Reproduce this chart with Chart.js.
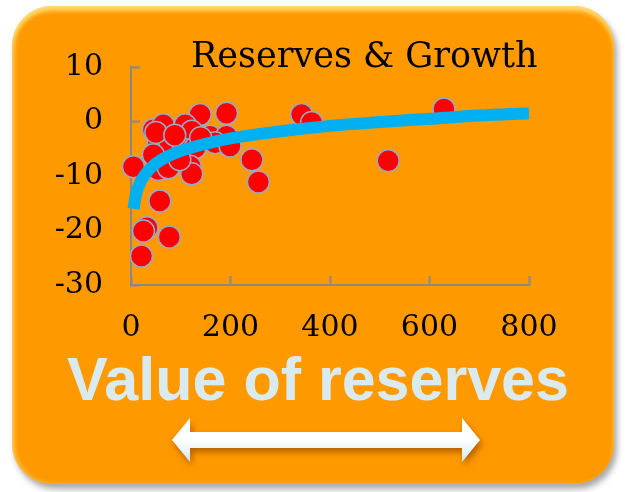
<!DOCTYPE html>
<html>
<head>
<meta charset="utf-8">
<title>Reserves & Growth</title>
<script src="https://cdn.jsdelivr.net/npm/chart.js@4.4.1/dist/chart.umd.min.js"></script>
<style>
  html, body { margin: 0; padding: 0; background: #fff; }
  #stage { position: relative; width: 625px; height: 492px; overflow: hidden; }
  #card {
    position: absolute; left: 12px; top: 6px; width: 602px; height: 478px;
    border-radius: 40px; background: #ff9900;
    box-shadow: inset 0 5px 4px rgba(255, 236, 140, 0.75), inset 3px 0 4px rgba(255, 220, 120, 0.5),
                3px 5px 6px rgba(0, 0, 0, 0.35);
  }
  #chart { position: absolute; left: 0; top: 0; }
  #title {
    position: absolute; left: 191px; top: 38px; white-space: nowrap;
    font: 35px/35px "DejaVu Serif", serif; color: #000;
  }
  #caption {
    position: absolute; left: 0; width: 636px; top: 349px; text-align: center;
    font: bold 61px/61px "Liberation Sans", Arial, sans-serif; color: #daebef;
  }
  #arrow { position: absolute; left: 168px; top: 412px; filter: drop-shadow(2px 4px 3px rgba(130, 60, 0, 0.6)); }
</style>
</head>
<body>
<div id="stage">
  <div id="card"></div>
  <canvas id="chart" width="625" height="492"></canvas>
  <div id="title">Reserves &amp; Growth</div>
  <div id="caption">Value of reserves</div>
  <svg id="arrow" width="320" height="60" viewBox="0 0 320 60">
    <defs>
      <linearGradient id="shine" x1="0" y1="0" x2="0" y2="1">
        <stop offset="0" stop-color="#ffffff"/>
        <stop offset="0.5" stop-color="#ffffff"/>
        <stop offset="1" stop-color="#d2e8ea"/>
      </linearGradient>
    </defs>
    <path d="M4 28 L22 6 L22 20 L294 20 L294 6 L312 28 L294 50 L294 36 L22 36 L22 50 Z" fill="url(#shine)"/>
  </svg>
</div>
<script>
// scatter points: value of reserves vs growth
const reserveValues = [5, 58, 21, 32, 25, 77, 139, 192, 243, 256,
  45, 65, 109, 122, 159, 192, 55, 78, 105, 129,
  169, 199, 55, 75, 119, 122, 98, 45, 343, 363,
  517, 629, 50, 88, 140];
const growthRates = [-8.3, -14.6, -24.7, -19.5, -20.1, -21.2, 1.3, 1.5, -7.0, -11.1,
  -1.5, -0.6, -0.6, -1.8, -2.7, -2.7, -3.9, -3.9, -5.1, -4.8,
  -3.9, -4.5, -8.8, -8.5, -8.2, -9.6, -7.0, -6.1, 1.3, -0.2,
  -7.2, 2.3, -2.0, -2.5, -3.0];

// logarithmic trend line
const trendX = [5, 10, 20, 40, 60, 100, 150, 200, 300, 400, 500, 600, 700, 800];
const trendY = [-16.0, -13.4, -10.9, -8.5, -7.1, -5.4, -4.1, -3.1, -1.8, -0.8, -0.1, 0.5, 1.1, 1.5];

const xTicks = [0, 200, 400, 600, 800];
const yTicks = [-30, -20, -10, 0, 10];

const axisGray = '#888888';
const tickFont = { family: 'DejaVu Serif', size: 30 };

new Chart(document.getElementById('chart'), {
  type: 'scatter',
  data: {
    datasets: [
      {
        label: 'Trend',
        type: 'line',
        data: trendX.map((x, i) => ({ x, y: trendY[i] })),
        borderColor: '#00b0f0',
        borderWidth: 12,
        borderCapStyle: 'butt',
        cubicInterpolationMode: 'monotone',
        pointRadius: 0,
        fill: false,
        clip: false
      },
      {
        label: 'Reserves',
        data: reserveValues.map((x, i) => ({ x, y: growthRates[i] })),
        backgroundColor: '#ff0000',
        borderColor: '#98aac6',
        borderWidth: 1.5,
        pointRadius: 11,
        clip: false
      }
    ]
  },
  options: {
    responsive: false,
    animation: false,
    events: [],
    layout: { padding: { left: 0, right: 96, top: 67, bottom: 147 } },
    plugins: { legend: { display: false }, tooltip: { enabled: false } },
    scales: {
      x: {
        type: 'linear', min: 0, max: 800,
        afterBuildTicks: s => { s.ticks = xTicks.map(v => ({ value: v })); },
        afterFit: s => { s.height = 60; },
        border: { color: axisGray, width: 2 },
        grid: { drawOnChartArea: false, color: axisGray, tickLength: -9, tickWidth: 2 },
        ticks: { color: '#000', font: tickFont, padding: 34, maxRotation: 0 }
      },
      y: {
        type: 'linear', min: -30, max: 10,
        afterBuildTicks: s => { s.ticks = yTicks.map(v => ({ value: v })); },
        afterFit: s => { s.width = 131; },
        border: { color: axisGray, width: 2 },
        grid: { drawOnChartArea: false, color: axisGray, tickLength: -9, tickWidth: 2 },
        ticks: { color: '#000', font: tickFont, padding: 37 }
      }
    }
  }
});
</script>
</body>
</html>
